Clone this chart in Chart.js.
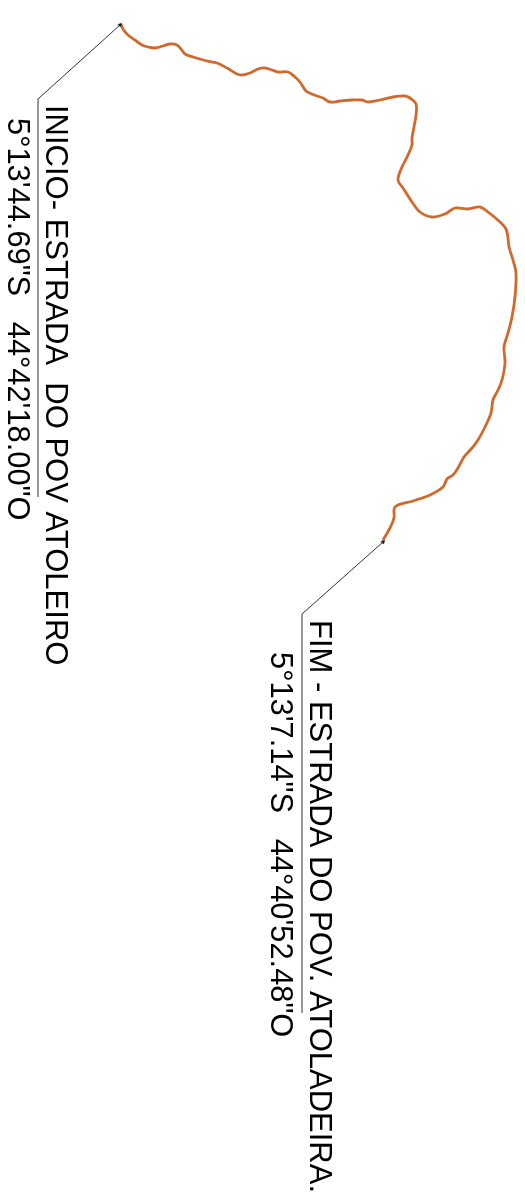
<!DOCTYPE html>
<html>
<head>
<meta charset="utf-8">
<script src="https://cdn.jsdelivr.net/npm/chart.js@4"></script>
<style>
  html, body { margin: 0; padding: 0; background: #fff; }
  canvas { display: block; }
</style>
</head>
<body>
<canvas id="road-map" width="525" height="1203"></canvas>
<script>
const roadX = [121, 123, 128, 135, 142, 148, 155, 163, 170, 177, 181, 185, 193, 207, 217, 227, 237, 242, 250, 258, 265, 272, 278, 288, 295, 300, 306, 312, 317, 323, 330, 340, 352, 362, 368, 380, 393, 405, 410, 416, 416, 414, 412, 412, 407, 402, 398, 403, 412, 420, 432, 445, 455, 468, 480, 488, 500, 506, 508, 509, 513, 516, 515, 512, 508, 504, 505, 502, 498, 493, 491, 485, 478, 472, 464, 458, 453, 447, 443, 430, 413, 395, 394, 390, 383];
const roadY = [24, 29, 35, 40, 45, 47, 48, 46, 44, 45, 49, 54, 57, 61, 63, 68, 74, 75, 73, 69, 68, 70, 72, 72, 77, 82, 91, 94, 96, 98, 102, 101, 100, 100, 102, 100, 97, 96, 98, 104, 115, 127, 138, 145, 157, 167, 180, 188, 202, 212, 217, 214, 208, 209, 207, 212, 222, 229, 238, 247, 260, 273, 297, 317, 333, 347, 363, 380, 390, 400, 413, 427, 440, 448, 457, 468, 475, 479, 487, 495, 501, 507, 518, 528, 540];

const startLeaderX = [38, 38, 120];
const startLeaderY = [497, 99, 25];
const endLeaderX = [302, 302, 383];
const endLeaderY = [1013, 614, 542];

const startTitle = 'INICIO- ESTRADA  DO POV ATOLEIRO';
const startCoords = '5°13\'44.69"S   44°42\'18.00"O';
const endTitle = 'FIM - ESTRADA DO POV. ATOLADEIRA.';
const endCoords = '5°13\'7.14"S   44°40\'52.48"O';

const zip = (xs, ys) => xs.map((x, i) => ({ x, y: ys[i] }));

// labels read sideways, so they are turned a quarter and drawn from the top down
const sideLabels = {
  id: 'sideLabels',
  afterDatasetsDraw(chart) {
    const { ctx, scales: { x, y } } = chart;
    const put = (text, px, py, size) => {
      ctx.save();
      ctx.translate(x.getPixelForValue(px), y.getPixelForValue(py));
      ctx.rotate(Math.PI / 2);
      ctx.font = size + 'px "Liberation Sans"';
      ctx.fillStyle = '#000';
      ctx.textAlign = 'left';
      ctx.textBaseline = 'alphabetic';
      ctx.fillText(text, 0, 0);
      ctx.restore();
    };
    put(startTitle, 46, 105, 31);
    put(startCoords, 7.5, 118, 30.8);
    put(endTitle, 310, 620, 31);
    put(endCoords, 270.5, 652, 30.8);
  }
};

const leader = (xs, ys, rotation) => ({
  data: zip(xs, ys),
  borderColor: '#333',
  backgroundColor: '#000',
  borderWidth: 1,
  pointRadius: [0, 0, 2],
  pointStyle: 'triangle',
  rotation: rotation,
  tension: 0
});

new Chart(document.getElementById('road-map'), {
  type: 'scatter',
  data: {
    datasets: [
      leader(startLeaderX, startLeaderY, 45),
      leader(endLeaderX, endLeaderY, 45),
      {
        data: zip(roadX, roadY),
        borderColor: '#d2692c',
        borderWidth: 2.8,
        pointRadius: 0,
        tension: 0.35
      }
    ].map(d => ({ showLine: true, ...d }))
  },
  options: {
    responsive: false,
    animation: false,
    layout: { padding: 0, autoPadding: false },
    plugins: { legend: { display: false }, tooltip: { enabled: false } },
    scales: {
      x: { display: false, min: 0, max: 525 },
      y: { display: false, min: 0, max: 1203, reverse: true }
    }
  },
  plugins: [sideLabels]
});
</script>
</body>
</html>
